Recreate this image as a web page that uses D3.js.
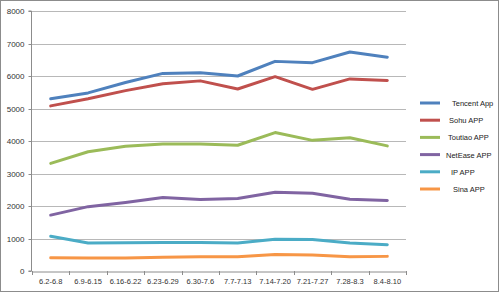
<!DOCTYPE html>
<html><head><meta charset="utf-8">
<script src="https://cdn.jsdelivr.net/npm/d3@7"></script>
<style>
html,body{margin:0;padding:0;background:#fff;}
svg{display:block;font-family:"Liberation Sans",Arial,sans-serif;}
</style></head>
<body>
<svg id="c" width="500" height="293"></svg>
<script>
const categories = ["6.2-6.8","6.9-6.15","6.16-6.22","6.23-6.29","6.30-7.6","7.7-7.13","7.14-7.20","7.21-7.27","7.28-8.3","8.4-8.10"];
const yTicks = [0,1000,2000,3000,4000,5000,6000,7000,8000];
const seriesNames = ["Tencent App","Sohu APP","Toutiao APP","NetEase APP","IP APP","Sina APP"];
const seriesColors = ["#4F81BD","#C0504D","#9BBB59","#8064A2","#4BACC6","#F79646"];
const tencent = [5300,5480,5800,6080,6100,6000,6450,6410,6740,6580];
const sohu    = [5080,5300,5550,5760,5850,5600,5980,5590,5910,5860];
const toutiao = [3310,3670,3840,3910,3910,3870,4260,4020,4100,3850];
const netease = [1720,1980,2110,2260,2200,2230,2420,2390,2210,2170];
const ip      = [1070,860,870,880,880,860,980,970,860,810];
const sina    = [410,400,400,420,440,440,510,490,440,450];
const seriesValues = [tencent,sohu,toutiao,netease,ip,sina];

(function(){
const svg = d3.select("#c");
const W=500,H=293;
svg.append("rect").attr("x",0.5).attr("y",0.5).attr("width",W-2).attr("height",H-2)
  .attr("fill","#fff").attr("stroke","#8c8c8c").attr("stroke-width",1);

const pl=32, pr=406, pt=11, pb=271;
const x = d3.scaleBand().domain(categories).range([pl,pr]);
const y = d3.scaleLinear().domain([0,8000]).range([pb,pt]);

// gridlines
svg.append("g").selectAll("line").data(yTicks.filter(d=>d>0)).join("line")
  .attr("x1",pl).attr("x2",pr)
  .attr("y1",d=>Math.round(y(d))+0.5).attr("y2",d=>Math.round(y(d))+0.5)
  .attr("stroke","#b8b8b8").attr("stroke-width",1);

// y axis
const ya = svg.append("g").attr("transform",`translate(${pl-0.5},0)`)
  .call(d3.axisLeft(y).tickValues(yTicks).tickSize(3).tickPadding(4).tickFormat(d3.format("d")));
ya.select(".domain").attr("stroke","#8c8c8c").attr("d",`M-3,${pt}H0V${pb}H-3`);
ya.selectAll(".tick line").attr("stroke","#8c8c8c");
ya.selectAll("text").attr("font-size",8).attr("fill","#333").attr("font-family","Liberation Sans, Arial, sans-serif");
ya.selectAll(".tick").attr("transform",d=>`translate(0,${Math.round(y(d))+0.5})`);

// x axis
const xa = svg.append("g").attr("transform",`translate(0,${pb+0.5})`)
  .call(d3.axisBottom(x).tickSize(0).tickPadding(7));
xa.select(".domain").attr("stroke","#8c8c8c");
xa.selectAll("text").attr("font-size",7.5).attr("fill","#333").attr("font-family","Liberation Sans, Arial, sans-serif");
const bounds = categories.map(c=>x(c)).concat([pr]);
svg.append("g").selectAll("line").data(bounds).join("line")
  .attr("x1",d=>Math.round(d)+0.5).attr("x2",d=>Math.round(d)+0.5)
  .attr("y1",pb).attr("y2",pb+4).attr("stroke","#8c8c8c");

// lines
const line = d3.line().x((d,i)=>x(categories[i])+x.bandwidth()/2).y(d=>y(d));
svg.append("g").selectAll("path").data(seriesValues).join("path")
  .attr("d",d=>line(d)).attr("fill","none")
  .attr("stroke",(d,i)=>seriesColors[i]).attr("stroke-width",3)
  .attr("stroke-linejoin","round").attr("stroke-linecap","round");

// legend
const lg = svg.append("g").selectAll("g").data(seriesNames).join("g")
  .attr("transform",(d,i)=>`translate(420,${103+i*17.2})`);
lg.append("line").attr("x1",0).attr("x2",20).attr("y1",0).attr("y2",0)
  .attr("stroke",(d,i)=>seriesColors[i]).attr("stroke-width",3);
lg.append("text").attr("x",(d,i)=>[32,29,28,26,31,33][i]).attr("y",3).attr("font-size",7.5).attr("fill","#222")
  .text(d=>d);
})();
</script>
</body></html>
